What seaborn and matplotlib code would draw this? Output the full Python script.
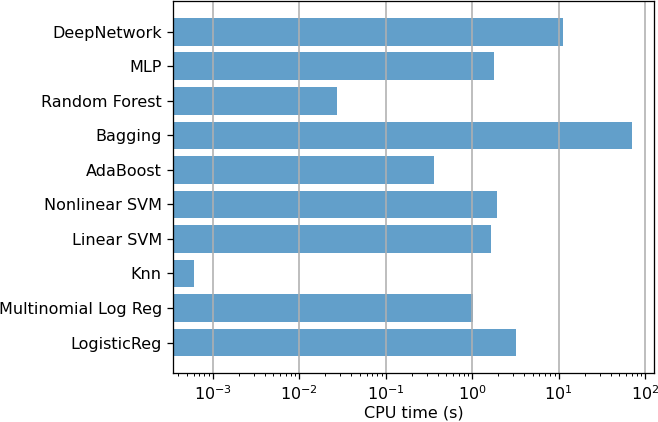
import seaborn as sns
import matplotlib.pyplot as plt

# Classifier names (top to bottom) and their CPU time in seconds
models = ['DeepNetwork', 'MLP', 'Random Forest', 'Bagging', 'AdaBoost',
          'Nonlinear SVM', 'Linear SVM', 'Knn', 'Multinomial Log Reg', 'LogisticReg']
cpu_time = [11.1, 1.78, 0.0277, 70.7, 0.36, 1.95, 1.66, 0.00061, 1.03, 3.25]

fig, ax = plt.subplots(figsize=(658 / 115, 422 / 115), dpi=115)
ax.set_xscale('log')

sns.barplot(x=cpu_time, y=models, orient='h', color='#1f77b4', alpha=0.7,
            width=0.8, saturation=1, ax=ax)

ax.set_xscale('log')
ax.set_xlim(3.47e-4, 128)
ax.set_ylim(len(models) - 0.11, -0.89)
ax.grid(axis='x', color='#b0b0b0', linewidth=1.0)
ax.set_xlabel('CPU time (s)', labelpad=1.5)
ax.set_ylabel('')

plt.subplots_adjust(left=0.263, right=0.9944, top=0.9976, bottom=0.1154)
plt.savefig('out.png')
